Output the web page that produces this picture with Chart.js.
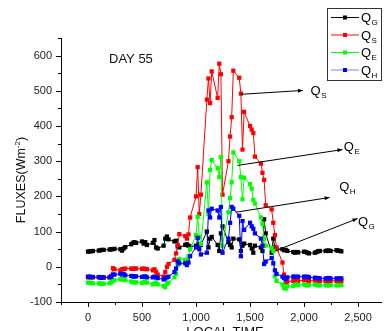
<!DOCTYPE html>
<html>
<head>
<meta charset="utf-8">
<script src="https://cdn.jsdelivr.net/npm/chart.js@4.4.1/dist/chart.umd.min.js"></script>
<style>
  body { margin: 0; background: #fff; }
  canvas { display: block; }
</style>
</head>
<body>
<canvas id="fluxChart" width="385" height="331"></canvas>
<script>
// local time (HHMM), 15 minute steps
const times = [
  0, 15, 30, 45, 100, 115, 130, 145, 200, 215, 230, 245,
  300, 315, 330, 345, 400, 415, 430, 445, 500, 515, 530, 545,
  600, 615, 630, 645, 700, 715, 730, 745, 800, 815, 830, 845,
  900, 915, 930, 945, 1000, 1015, 1030, 1045, 1100, 1115, 1130, 1145,
  1200, 1215, 1230, 1245, 1300, 1315, 1330, 1345, 1400, 1415, 1430, 1445,
  1500, 1515, 1530, 1545, 1600, 1615, 1630, 1645, 1700, 1715, 1730, 1745,
  1800, 1815, 1830, 1845, 1900, 1915, 1930, 1945, 2000, 2015, 2030, 2045,
  2100, 2115, 2130, 2145, 2200, 2215, 2230, 2245, 2300, 2315, 2330, 2345
];

// Q_G - ground heat flux
const qG = [
  43, 44, 44, 45, 46, 47, 48, 48, 49, 50, 50, 51,
  50, 46, 52, 56, 64, 68, 70, 68, 72, 66, 70, 62,
  68, 76, 55, 52, 60, 80, 86, 78, 72, 74, 58, 55,
  62, 64, 60, 57, 60, 58, 64, 62, 100, 55, 80, 85,
  62, 45, 95, 115, 70, 62, 55, 80, 78, 45, 60, 66,
  62, 52, 40, 60, 55, 45, 135, 95, 40, 80, 55, 50,
  50, 47, 48, 45, 42, 40, 42, 41, 43, 42, 40, 38,
  40, 42, 44, 45, 45, 46, 46, 45, 47, 46, 45, 44
];

// Q_S
const qS = [
  -30, -30, -30, -30, -30, -31, -31, -31, -30, -26, -4, -7,
  -10, -7, -6, -5, -5, -6, -5, -5, -6, -5, -6, -7,
  -10, -7, -14, -22, -28, -15, 0, 8, 20, 38, 62, 93,
  87, 80, 92, 140, 200, 283, 150, 205, 475, 535, 465, 555,
  480, 577, 547, 205, 300, 370, 425, 557, 537, 492, 333, 440,
  400, 390, 380, 313, 293, 267, 247, 175, 163, 125, 90, 55,
  12, -22, -45, -42, -40, -38, -39, -40, -38, -37, -38, -40,
  -39, -40, -40, -41, -40, -40, -41, -40, -40, -41, -40, -40
];

// Q_E
const qE = [
  -45, -46, -46, -47, -47, -48, -48, -48, -47, -44, -40, -38,
  -35, -36, -35, -38, -42, -43, -45, -44, -46, -44, -42, -45,
  -50, -48, -45, -50, -55, -58, -48, -45, -30, -20, 5, 22,
  20, 18, 30, 50, 90, 142, 85, 65, 240, 150, 275, 303,
  280, 255, 312, 60, 155, 195, 240, 325, 300, 255, 192, 253,
  235, 222, 190, 180, 140, 122, 80, 60, 54, 45, -27, -40,
  -50, -60, -62, -55, -55, -52, -50, -52, -50, -52, -53, -52,
  -50, -52, -52, -53, -52, -53, -52, -52, -53, -52, -52, -52
];

// Q_H
const qH = [
  -28, -28, -29, -29, -29, -30, -30, -30, -30, -28, -22, -22,
  -20, -22, -20, -24, -26, -27, -28, -27, -29, -28, -27, -30,
  -30, -28, -30, -32, -36, -33, -30, -28, -15, -5, 15, 10,
  10, 5, 12, 30, 55, 82, 50, 35, 40, 160, 140, 165,
  160, 140, 170, 40, 80, 125, 170, 165, 145, 30, 130, 105,
  125, 115, 108, 95, 80, 60, 8, 15, 25, 10, -10, -20,
  -28, -32, -35, -30, -28, -28, -29, -28, -28, -29, -28, -30,
  -31, -32, -32, -33, -33, -33, -32, -33, -33, -34, -33, -33
];

const yTicksMajor = [-100, 0, 100, 200, 300, 400, 500, 600];
const xTicksMajor = [0, 500, 1000, 1500, 2000, 2500];

const seriesNames = ['G', 'S', 'E', 'H'];
const seriesColors = ['#000000', '#ff0000', '#00ff00', '#0000ff'];
const legendLineColors = ['#000000', '#ff0000', '#00ff00', '#8080ff'];

// arrow annotations: [letter, fromX, fromY, toX, toY, labelX, labelY]
const arrowNotes = [
  ['S', 1413, 490, 1990, 501, 2060, 502],
  ['E', 1383, 288, 2355, 333, 2368, 344],
  ['H', 1367, 155, 2236, 197, 2325, 229],
  ['G', 1764, 49, 2495, 137, 2498, 131]
];

const FONT = "'Liberation Sans', Arial, Helvetica, sans-serif";
Chart.defaults.font.family = FONT;

function toPoints(values) {
  return values.map((v, i) => ({ x: times[i], y: v }));
}

function drawQ(ctx, x, y, sub, size) {
  // "Q" with a subscript letter, x = left edge, y = baseline
  ctx.font = size + 'px ' + FONT;
  ctx.textAlign = 'left';
  ctx.textBaseline = 'alphabetic';
  ctx.fillText('Q', x, y);
  const w = ctx.measureText('Q').width;
  ctx.font = Math.round(size * 0.6) + 'px ' + FONT;
  ctx.fillText(sub, x + w + 0.5, y + 3);
}

const decorations = {
  id: 'decorations',
  afterDraw(chart) {
    const ctx = chart.ctx;
    const xs = chart.scales.x;
    const ys = chart.scales.y;
    const area = chart.chartArea;
    ctx.save();
    ctx.strokeStyle = '#000';
    ctx.lineWidth = 1;

    // tick marks (major long, minor short), pointing outward
    ctx.beginPath();
    for (let v = -100; v <= 650; v += 50) {
      const py = Math.round(ys.getPixelForValue(v)) + 0.5;
      const len = v % 100 === 0 ? 5 : 3;
      ctx.moveTo(area.left, py);
      ctx.lineTo(area.left - len, py);
    }
    for (let v = -250; v <= 2700; v += 250) {
      const px = Math.round(xs.getPixelForValue(v)) + 0.5;
      const len = v % 500 === 0 ? 5 : 3;
      ctx.moveTo(px, area.bottom);
      ctx.lineTo(px, area.bottom + len);
    }
    ctx.stroke();

    // "DAY 55"
    ctx.fillStyle = '#111';
    ctx.font = '13px ' + FONT;
    ctx.textAlign = 'left';
    ctx.textBaseline = 'alphabetic';
    ctx.fillText('DAY 55', 109, 62.5);

    // x axis title (cut off by the bottom edge)
    ctx.textAlign = 'center';
    ctx.fillText('LOCAL TIME', 225, 336);

    // y axis title with superscript
    ctx.save();
    ctx.translate(25, 180);
    ctx.rotate(-Math.PI / 2);
    const main = 'FLUXES(Wm';
    const sup = '-2';
    ctx.font = '12.5px ' + FONT;
    const w1 = ctx.measureText(main).width;
    ctx.font = '8px ' + FONT;
    const w2 = ctx.measureText(sup).width;
    ctx.font = '12.5px ' + FONT;
    const w3 = ctx.measureText(')').width;
    const sx = -(w1 + w2 + w3) / 2;
    ctx.textAlign = 'left';
    ctx.fillText(main, sx, 0);
    ctx.font = '8px ' + FONT;
    ctx.fillText(sup, sx + w1, -5);
    ctx.font = '12.5px ' + FONT;
    ctx.fillText(')', sx + w1 + w2, 0);
    ctx.restore();

    // arrows with labels
    ctx.fillStyle = '#000';
    ctx.strokeStyle = '#000';
    arrowNotes.forEach(([sub, fx, fy, tx, ty, lx, ly]) => {
      const x0 = xs.getPixelForValue(fx), y0 = ys.getPixelForValue(fy);
      const x1 = xs.getPixelForValue(tx), y1 = ys.getPixelForValue(ty);
      const ang = Math.atan2(y1 - y0, x1 - x0);
      ctx.beginPath();
      ctx.moveTo(x0, y0);
      ctx.lineTo(x1, y1);
      ctx.lineWidth = 1;
      ctx.stroke();
      ctx.beginPath();
      ctx.moveTo(x1, y1);
      ctx.lineTo(x1 - 5 * Math.cos(ang) + 2 * Math.sin(ang), y1 - 5 * Math.sin(ang) - 2 * Math.cos(ang));
      ctx.lineTo(x1 - 5 * Math.cos(ang) - 2 * Math.sin(ang), y1 - 5 * Math.sin(ang) + 2 * Math.cos(ang));
      ctx.closePath();
      ctx.fill();
      drawQ(ctx, xs.getPixelForValue(lx), ys.getPixelForValue(ly) + 5, sub, 13);
    });

    // legend box
    ctx.strokeStyle = '#333';
    ctx.lineWidth = 1;
    ctx.fillStyle = '#fff';
    ctx.fillRect(327.5, 8.5, 54, 72);
    ctx.strokeRect(327.5, 8.5, 54, 72);
    seriesNames.forEach((name, i) => {
      const ry = 17 + i * 17.5;
      ctx.strokeStyle = legendLineColors[i];
      ctx.beginPath();
      ctx.moveTo(331, ry + 0.5);
      ctx.lineTo(359, ry + 0.5);
      ctx.stroke();
      ctx.fillStyle = seriesColors[i];
      ctx.fillRect(343, ry - 1.5, 4, 4);
      ctx.fillStyle = '#000';
      drawQ(ctx, 361, ry + 5, name, 13);
    });

    ctx.restore();
  }
};

const datasetDefs = [qG, qS, qE, qH].map((vals, i) => ({
  label: 'Q' + seriesNames[i],
  data: toPoints(vals),
  borderColor: seriesColors[i],
  backgroundColor: seriesColors[i],
  borderWidth: 1,
  pointStyle: 'rect',
  pointRadius: 3,
  pointBorderWidth: 0,
  pointBackgroundColor: seriesColors[i],
  tension: 0,
  order: 3 - i
}));

new Chart(document.getElementById('fluxChart'), {
  type: 'line',
  data: { datasets: datasetDefs },
  options: {
    responsive: false,
    animation: false,
    layout: { padding: { top: 38, right: 0, left: 0, bottom: 0 } },
    plugins: {
      legend: { display: false },
      tooltip: { enabled: false }
    },
    scales: {
      x: {
        type: 'linear',
        min: -250,
        max: 2712,
        afterFit(scale) { scale.height = 29; },
        afterBuildTicks(scale) {
          scale.ticks = xTicksMajor.map(v => ({ value: v }));
        },
        grid: { display: false, drawTicks: false },
        border: { display: true, color: '#000', width: 1 },
        ticks: {
          color: '#222',
          font: { size: 11 },
          padding: 9,
          maxRotation: 0,
          autoSkip: false
        }
      },
      y: {
        min: -100,
        max: 650,
        afterFit(scale) { scale.width = 61; },
        afterBuildTicks(scale) {
          scale.ticks = yTicksMajor.map(v => ({ value: v }));
        },
        grid: { display: false, drawTicks: false },
        border: { display: true, color: '#000', width: 1 },
        ticks: {
          color: '#222',
          font: { size: 11 },
          padding: 9,
          autoSkip: false
        }
      }
    }
  },
  plugins: [decorations]
});
</script>
</body>
</html>
